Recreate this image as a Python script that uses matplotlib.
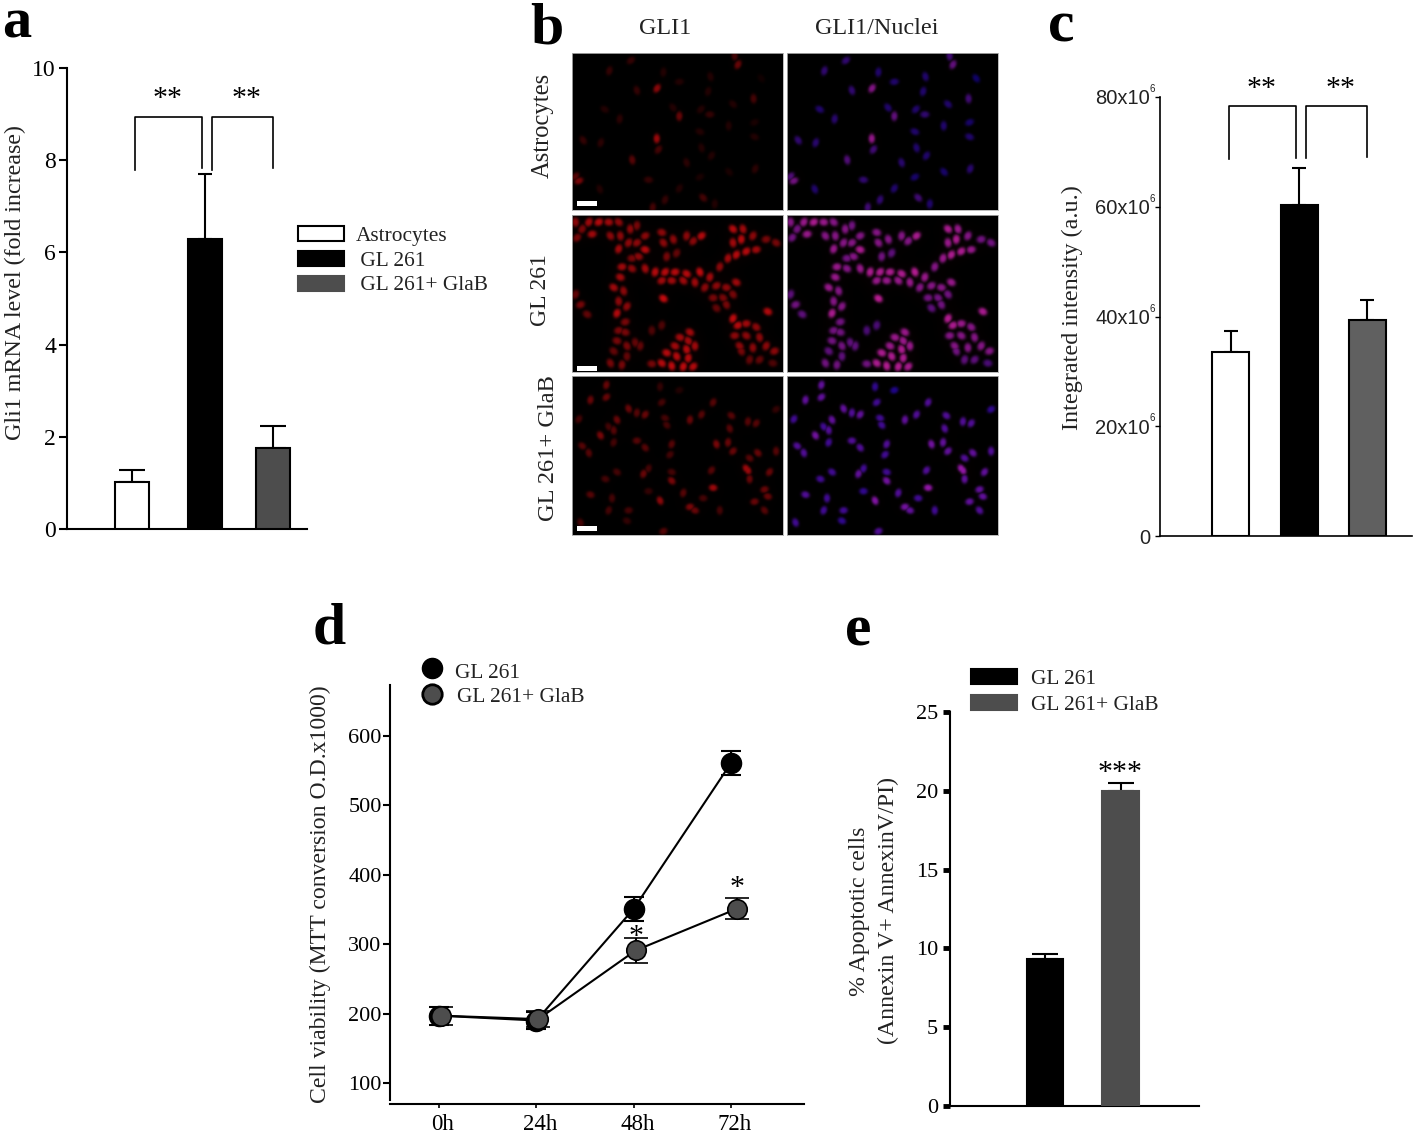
import numpy as np
import matplotlib
matplotlib.use('Agg')
import matplotlib.pyplot as plt
from matplotlib.patches import Rectangle
from matplotlib.transforms import ScaledTranslation

W = 1418
H = 1134

plt.rcParams['font.family'] = ['Liberation Serif', 'DejaVu Serif']

# panel a
a_values = [1.02, 6.3, 1.75]
a_errors = [0.25, 1.4, 0.48]
a_ticks = [0, 2, 4, 6, 8, 10]
a_x = [0, 1.035, 2]
a_colors = ['white', 'black', '#4d4d4d']
a_caps = [9.5, 5, 9.5]
a_legend = ['Astrocytes', ' GL 261', ' GL 261+ GlaB']

# panel c
c_values = [33.5, 60.3, 39.3]
c_errors = [3.9, 6.7, 3.7]
c_ticks = [0, 20, 40, 60, 80]
c_ticklabels = ['0', '20x10', '40x10', '60x10', '80x10']
c_colors = ['white', 'black', '#606060']

# panel d
d_labels = ['0h', '24h', '48h', '72h']
d_black = [197, 190, 351, 561]
d_black_err = [13, 12, 17, 17]
d_gray = [197, 192, 291, 351]
d_gray_err = [13, 12, 18, 15]
d_gray_x = [0.02, 0.02, 0.02, 0.06]
d_ticks = [100, 200, 300, 400, 500, 600]

# panel e
e_values = [9.3, 20.0]
e_errors = [0.35, 0.5]
e_ticks = [0, 5, 10, 15, 20, 25]
e_colors = ['black', '#4d4d4d']

# panel b, nuclei (x, y, red signal)
nuclei_astro = [(332,173,.3),(267,203,.3),(655,185,.6),(645,160,.4),(430,207,.2),(572,220,.2),
    (350,260,.3),(411,254,.8),(478,235,.2),(565,263,.2),(702,284,.4),(640,300,.2),(459,310,.2),
    (478,335,.6),(543,315,.2),(570,330,.3),(298,343,.25),(253,315,.2),(627,363,.2),(705,353,.15),
    (188,405,.3),(241,412,.25),(410,400,.9),(540,380,.2),(705,395,.2),(336,462,.5),(545,427,.2),
    (575,450,.2),(500,470,.25),(707,488,.25),(628,497,.15),(175,523,.7),(165,510,.5),(385,520,.3),
    (238,547,.2),(478,545,.2),(435,578,.3),(550,572,.4),(398,600,.4),(585,590,.2),(725,225,.1),
    (540,512,.15),(415,432,.4)]

nuclei_gl261 = [(165,640,.7),(185,660,.6),(215,675,.8),(170,685,.6),(205,640,.8),(235,640,.9),
    (265,640,.8),(295,640,.7),(270,680,.7),(300,680,.7),(330,660,.7),(350,650,.6),(325,700,.7),
    (295,718,.8),(350,700,.7),(375,720,.9),(355,740,.7),(335,745,.6),(375,680,.7),(425,670,.7),
    (430,700,.7),(460,690,.7),(500,680,.7),(545,680,.9),(520,695,.7),(470,730,.5),(440,740,.6),
    (305,770,.8),(335,775,.7),(375,775,.8),(405,785,.9),(435,785,.9),(465,785,.9),(500,790,.9),
    (540,785,.95),(570,800,.8),(425,810,.8),(455,810,.8),(490,810,.8),(525,815,.8),(555,830,.7),
    (590,825,.7),(620,830,.7),(650,815,.8),(580,860,.6),(610,860,.6),(640,850,.6),(590,890,.5),
    (620,880,.6),(600,770,.7),(625,745,.8),(650,735,.9),(680,725,.9),(640,700,.8),(665,690,.9),
    (640,660,.9),(670,660,.8),(700,680,.7),(740,690,.6),(770,700,.6),(710,720,.8),
    (300,800,.8),(280,830,.8),(310,840,.7),(295,870,.7),(320,885,.7),(290,905,.9),(315,930,.6),
    (295,955,.6),(315,960,.6),(290,985,.6),(320,1000,.6),(345,990,.5),(360,1000,.5),(280,1015,.5),
    (320,1030,.5),(270,1050,.6),(305,1055,.6),(165,850,.5),(180,880,.6),(200,908,.5),
    (430,862,1.0),(745,900,.9),(395,955,.4),(425,940,.4),(510,960,.8),(480,975,.8),(505,985,.8),
    (465,1000,.8),(500,1010,.9),(525,1000,.8),(440,1020,.9),(470,1030,.9),(505,1035,.9),
    (425,1050,.9),(455,1058,.95),(490,1060,.95),(520,1060,.9),(395,1052,.6),(640,920,.95),
    (655,940,.9),(680,935,.8),(710,945,.7),(645,970,.7),(680,970,.7),(720,975,.7),(660,1000,.7),
    (700,1005,.7),(740,1000,.7),(765,1015,.7),(690,1040,.5),(665,1015,.6),(720,1040,.5),(760,1050,.4)]

nuclei_glab = [(258,1110,.6),(258,1145,.6),(210,1153,.6),(175,1208,.4),(290,1210,.6),(325,1178,.6),
    (375,1195,.6),(350,1190,.5),(425,1160,.4),(420,1115,.3),(478,1125,.2),(435,1205,.4),(440,1225,.4),
    (510,1210,.6),(545,1195,.5),(580,1160,.5),(635,1198,.5),(630,1235,.5),(685,1215,.5),(710,1220,.5),
    (770,1180,.3),(240,1255,.7),(280,1240,.5),(265,1230,.4),(185,1285,.5),(205,1305,.5),(280,1275,.4),
    (350,1270,.5),(375,1290,.5),(455,1280,.5),(450,1310,.4),(590,1280,.7),(625,1275,.6),(640,1300,.6),
    (715,1305,.6),(770,1300,.5),(680,1350,.9),(690,1320,.5),(290,1360,.4),(370,1365,.6),(385,1350,.4),
    (455,1385,.7),(255,1380,.4),(455,1360,.4),(575,1355,.5),(580,1405,.9),(685,1355,.9),(750,1360,.6),
    (735,1410,.6),(745,1430,.6),(210,1425,.5),(275,1435,.4),(385,1415,.3),(420,1442,.8),(325,1470,.4),
    (510,1460,.7),(550,1435,.4),(525,1470,.6),(600,1470,.4),(735,1470,.5),(490,1420,.5),(180,1505,.4),
    (430,1530,.5),(705,1445,.6),(690,1380,.6),(320,1500,.3),(265,1470,.4)]


def px_axes(x0, ytop, x1, ybot):
    return fig.add_axes([x0/W, 1-ybot/H, (x1-x0)/W, (ybot-ytop)/H])


def style_axes(ax, width=1.5):
    ax.spines['top'].set_visible(False)
    ax.spines['right'].set_visible(False)
    ax.spines['left'].set_linewidth(width)
    ax.spines['bottom'].set_linewidth(width)
    ax.set_xticks([])
    ax.patch.set_alpha(0)


def draw_bars(ax, xs, vals, errs, cols, caps, width, edge='black'):
    for x, v, e, c, cap in zip(xs, vals, errs, cols, caps):
        ax.errorbar(x, v, yerr=[[0], [e]], color='black', elinewidth=1.5, capsize=cap,
                    capthick=1.5, zorder=2)
        ax.bar(x, v, width=width, color=c, edgecolor=edge or c, linewidth=1.5, zorder=3)


def bracket(x0, x1, ytop, yleft, yright):
    over.plot([x0, x0, x1, x1], [yleft, ytop, ytop, yright], color='black', lw=1.2)


def legend_row(x, y, color, label, textx):
    over.add_patch(Rectangle((x, y), 46, 15, facecolor=color, edgecolor='black' if color == 'white' else color, lw=1.5))
    over.text(textx, y+10, label, fontsize=15.4, va='center', color='#222222')


def render(nuclei, y0, a, b):
    xs = np.linspace(155, 790, 424)
    ys = np.linspace(y0, y0+455, 316)
    xx, yy = np.meshgrid(xs, ys)
    red = np.zeros(xx.shape)
    mask = np.zeros(xx.shape)
    for x, y, s in nuclei:
        t = np.radians((x+y) % 180)
        dx = xx-x
        dy = yy-y
        u = dx*np.cos(t)+dy*np.sin(t)
        v = -dx*np.sin(t)+dy*np.cos(t)
        r2 = (u/a)**2+(v/b)**2
        g = np.exp(-r2**1.5)
        red = np.maximum(red, s*g) + 0.015*s*np.exp(-r2/8)
        mask = np.maximum(mask, g)
    return np.clip(red, 0, 1), mask, (155, 790, y0+455, y0)


fig = plt.figure(figsize=(W/100, H/100), dpi=100)
over = fig.add_axes([0, 0, 1, 1], zorder=5)
over.set_xlim(0, W)
over.set_ylim(H, 0)
over.axis('off')

# a
ax = px_axes(67, 68, 307, 529)
style_axes(ax)
draw_bars(ax, a_x, a_values, a_errors, a_colors, a_caps, 0.48)
ax.set_xlim(-0.92, 2.48)
ax.set_ylim(0, 10)
ax.set_yticks(a_ticks)
ax.tick_params(axis='y', length=5.5, width=1.5, pad=2.5, labelsize=17)
bracket(135, 202, 117, 170, 168)
bracket(212, 273, 117, 170, 168)
over.text(168, 106, '**', fontsize=21.5, ha='center', va='baseline')
over.text(247, 106, '**', fontsize=21.5, ha='center', va='baseline')
over.text(15, 283, 'Gli1 mRNA level (fold increase)', fontsize=17.3, rotation=90, ha='center', va='center', color='#222222')
for y, c, lab, tx in zip([226, 251, 276], a_colors, a_legend, [356, 355, 355]):
    legend_row(298, y, c, lab, tx)

# b
rows = [(nuclei_astro, 152, 14, 10, 0.65, 0.38, 53, 210, 201),
        (nuclei_gl261, 620, 14, 11, 0.75, 0.38, 215, 372, 366),
        (nuclei_glab, 1085, 13, 10, 0.65, 0.5, 376, 535, 526)]
for nuclei, y0, ea, eb, gain, blue, ytop, ybot, bar_y in rows:
    red, mask, ext = render(nuclei, y0, ea, eb)
    red = red*gain
    left = np.dstack([red, red*0.05, red*0.07])
    right = np.dstack([red*0.95, red*0.15, np.clip(blue*mask+0.25*red, 0, 1)])
    for img, x0, x1 in [(left, 572, 783), (right, 787, 998)]:
        iax = px_axes(x0, ytop, x1, ybot)
        iax.imshow(img, extent=ext, aspect='auto', interpolation='bilinear')
        iax.set_xticks([])
        iax.set_yticks([])
        for s in iax.spines.values():
            s.set_edgecolor('#b0b0b0')
            s.set_linewidth(0.6)
    over.add_patch(Rectangle((577, bar_y), 20, 4.5, facecolor='white', edgecolor='none'))
over.text(665, 29, 'GLI1', fontsize=17.4, ha='center', va='center', color='#222222')
over.text(877, 29, 'GLI1/Nuclei', fontsize=17.4, ha='center', va='center', color='#222222')
over.text(543, 125, 'Astrocytes', fontsize=17.7, rotation=90, ha='center', va='center', color='#222222')
over.text(540, 290, 'GL 261', fontsize=17, rotation=90, ha='center', va='center', color='#222222')
over.text(548, 448, 'GL 261+ GlaB', fontsize=17.6, rotation=90, ha='center', va='center', color='#222222')

# c
ax = px_axes(1160, 97, 1412, 536)
style_axes(ax, 1.2)
draw_bars(ax, [0, 1, 2], c_values, c_errors, c_colors, [5, 5, 5], 0.54)
ax.set_xlim(-1.03, 2.65)
ax.set_ylim(0, 80)
ax.set_yticks(c_ticks)
ax.set_yticklabels(c_ticklabels, family='Liberation Sans', fontsize=14.5, color='#222222')
ax.tick_params(axis='y', length=3.6, width=1, pad=3.6)
for v in c_ticks[1:]:
    ax.annotate('6', xy=(0, v), xycoords=('axes fraction', 'data'), xytext=(-10, 3), textcoords='offset pixels',
                family='Liberation Sans', fontsize=7, va='bottom', ha='left', color='#222222')
bracket(1229, 1296, 106, 159, 158)
bracket(1306, 1367, 106, 158, 157)
over.text(1262, 96, '**', fontsize=21.5, ha='center', va='baseline')
over.text(1341, 96, '**', fontsize=21.5, ha='center', va='baseline')
over.text(1072, 308, 'Integrated intensity (a.u.)', fontsize=17.4, rotation=90, ha='center', va='center', color='#222222')

# d
ax = px_axes(390, 685, 804, 1104)
style_axes(ax)
d_x = np.arange(len(d_labels))
ax.errorbar(d_x, d_black, yerr=d_black_err, color='black', lw=1.5, capsize=7, capthick=1.5,
            marker='o', markersize=14.5, markerfacecolor='black', markeredgecolor='black', zorder=3)
ax.errorbar(d_gray_x+d_x, d_gray, yerr=d_gray_err, color='black', lw=1.5, capsize=8.5, capthick=1.5,
            marker='o', markersize=14, markerfacecolor='#4d4d4d', markeredgecolor='black', markeredgewidth=1.2, zorder=4)
ax.set_xlim(-0.504, 3.75)
ax.set_ylim(69.7, 673.5)
ax.spines['left'].set_bounds(75, 673.5)
ax.set_yticks(d_ticks)
ax.set_xticks(d_x)
ax.set_xticklabels(d_labels)
ax.tick_params(axis='y', length=5, width=1.5, pad=1, labelsize=16)
ax.tick_params(axis='x', length=3, width=1.2, pad=4, labelsize=16.5)
shift = ScaledTranslation(4/100, 0, fig.dpi_scale_trans)
for lab in ax.get_xticklabels():
    lab.set_transform(lab.get_transform()+shift)
over.plot([432], [668], 'o', ms=14.5, color='black')
over.plot([432], [694], 'o', ms=14, mfc='#4d4d4d', mec='black', mew=2)
over.text(455, 673, 'GL 261', fontsize=15.4, va='center', color='#222222')
over.text(457, 697, 'GL 261+ GlaB', fontsize=15.4, va='center', color='#222222')
over.text(636, 944, '*', fontsize=21.5, ha='center', va='baseline')
over.text(737, 895, '*', fontsize=21.5, ha='center', va='baseline')
over.text(320, 894, 'Cell viability (MTT conversion O.D.x1000)', fontsize=17.1, rotation=90, ha='center', va='center', color='#222222')

# e
ax = px_axes(950, 712, 1199, 1106)
style_axes(ax)
draw_bars(ax, [0, 1], e_values, e_errors, e_colors, [9.5, 9.5], 0.48, edge=None)
ax.set_xlim(-1.26, 2.04)
ax.set_ylim(0, 25)
ax.set_yticks(e_ticks)
ax.tick_params(axis='y', length=5, width=3.5, pad=3.5, labelsize=16)
over.text(1120, 780, '***', fontsize=21.5, ha='center', va='baseline')
over.text(860, 911, '% Apoptotic cells', fontsize=17.2, rotation=90, ha='center', va='center', color='#222222')
over.text(888, 911, '(Annexin V+ AnnexinV/PI)', fontsize=17.2, rotation=90, ha='center', va='center', color='#222222')
for y, c, lab in zip([669, 695], e_colors, ['GL 261', 'GL 261+ GlaB']):
    legend_row(971, y, c, lab, 1031)

# panel letters
for letter, x, y, size in [('a', 17, 38, 42), ('b', 547, 43, 43), ('c', 1061, 42, 43), ('d', 329, 644, 43), ('e', 858, 645, 43)]:
    over.text(x, y, letter, fontsize=size, fontweight='bold', ha='center', va='baseline', color='black')

fig.savefig('out.png', dpi=100)
